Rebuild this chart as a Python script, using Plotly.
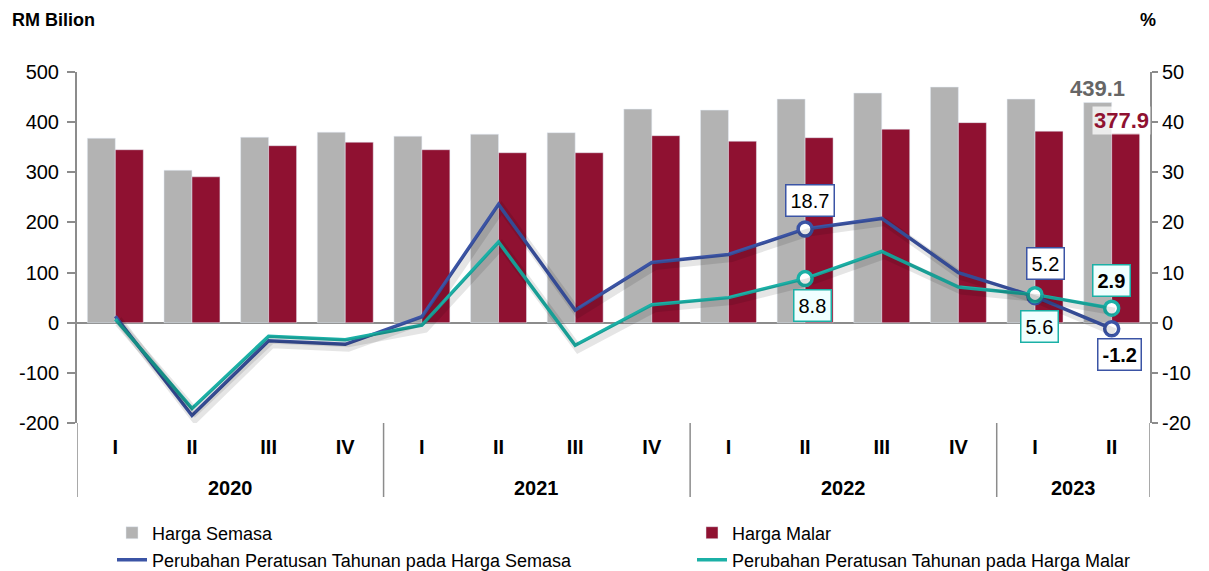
import plotly.graph_objects as go

years = ["2020", "2021", "2022", "2023"]
year_counts = [4, 4, 4, 2]
quarters = ["I", "II", "III", "IV"] * 3 + ["I", "II"]

harga_semasa = [368, 304, 370, 380, 372, 376, 379, 426, 424, 446, 458, 470, 446, 439.1]
harga_malar = [345, 291, 353, 360, 345, 339, 339, 373, 362, 369, 386, 399, 382, 377.9]
pct_semasa = [1.3, -18.5, -3.6, -4.3, 1.2, 23.6, 2.5, 12.0, 13.6, 18.7, 20.8, 10.0, 5.2, -1.2]
pct_malar = [0.7, -17.1, -2.7, -3.4, -0.5, 16.1, -4.5, 3.6, 5.0, 8.8, 14.2, 7.1, 5.6, 2.9]

left_ticks = [-200, -100, 0, 100, 200, 300, 400, 500]
right_ticks = [-20, -10, 0, 10, 20, 30, 40, 50]

GRAY = "#B3B3B3"
MAROON = "#8F1131"
BLUE = "#3B54A5"
TEAL = "#1BB0A6"
AXIS = "#8C8C8C"
FONT = "Liberation Sans, Arial, sans-serif"

# the page body has an 8px margin, so the figure is drawn 8px smaller and
# all target positions (taken in window pixels) are shifted by that amount
OFF = 8
W, H = 1209 - OFF, 571 - OFF
ML, MT = 77 - OFF, 72 - OFF
MR, MB = W - (1150 - OFF), H - (423 - OFF)
PW, PH = W - ML - MR, H - MT - MB

def px_x(p):
    return (p - OFF - ML) / PW

def px_y(p):
    return (H - MB - (p - OFF)) / PH

# one category per quarter
x = []
for y, n in zip(years, year_counts):
    x += [f"{y} {q}" for q in ["I", "II", "III", "IV"][:n]]

fig = go.Figure()
fig.add_trace(go.Bar(x=x, y=harga_semasa, name="Harga Semasa", marker_color=GRAY, legend="legend"))
fig.add_trace(go.Bar(x=x, y=harga_malar, name="Harga Malar", marker_color=MAROON, legend="legend2"))

# soft shadows under the lines, drawn on slightly shifted overlay axes
for s in (pct_semasa, pct_malar):
    fig.add_trace(go.Scatter(x=x, y=s, xaxis="x2", yaxis="y3", mode="lines", showlegend=False,
                             hoverinfo="skip", line=dict(color="rgba(0,0,0,0.10)", width=8)))

fig.add_trace(go.Scatter(x=x, y=pct_semasa, name="Perubahan Peratusan Tahunan pada Harga Semasa",
                         yaxis="y2", mode="lines", line=dict(color=BLUE, width=3.5), legend="legend3"))
fig.add_trace(go.Scatter(x=x, y=pct_malar, name="Perubahan Peratusan Tahunan pada Harga Malar",
                         yaxis="y2", mode="lines", line=dict(color=TEAL, width=3.5), legend="legend4"))

marked = [9, 12, 13]
for s, c in ((pct_semasa, BLUE), (pct_malar, TEAL)):
    fig.add_trace(go.Scatter(x=[x[i] for i in marked], y=[s[i] for i in marked], yaxis="y2",
                             mode="markers", showlegend=False, hoverinfo="skip",
                             marker=dict(size=14, color="white", line=dict(color=c, width=3.5))))

def box(i, series, color, dx, dy, bold=False, bg="white"):
    v = series[i]
    txt = f"{v:.1f}"
    if bold:
        txt = f"<b>{txt}</b>"
    fig.add_annotation(x=i, y=v, xref="x", yref="y2", text=txt, showarrow=False,
                       xshift=dx, yshift=dy, bgcolor=bg, bordercolor=color, borderwidth=1.5,
                       borderpad=4, font=dict(size=20, color="black", family=FONT))

box(9, pct_semasa, BLUE, 5, 28)
box(9, pct_malar, TEAL, 7, -27, bg="#F0FFFF")
box(12, pct_semasa, BLUE, 10, 33)
box(12, pct_malar, TEAL, 4, -32, bg="#F0FFFF")
box(13, pct_malar, TEAL, 0, 28, bold=True, bg="#F0FFFF")
box(13, pct_semasa, BLUE, 8, -26, bold=True)

fig.add_annotation(x=13, y=harga_semasa[13], xref="x", yref="y", text=f"<b>{harga_semasa[13]}</b>",
                   showarrow=False, xshift=-14, yshift=14,
                   font=dict(size=22, color="#666666", family=FONT))
fig.add_annotation(x=13, y=harga_malar[13], xref="x", yref="y", text=f"<b>{harga_malar[13]}</b>",
                   showarrow=False, xshift=10, yshift=13, bgcolor="rgba(255,255,255,0.75)",
                   font=dict(size=22, color=MAROON, family=FONT))

# axis titles
fig.add_annotation(x=px_x(10), y=px_y(20), xref="paper", yref="paper", xanchor="left", yanchor="middle",
                   text="<b>RM Bilion</b>", showarrow=False, font=dict(size=18, color="black", family=FONT))
fig.add_annotation(x=px_x(1148), y=px_y(20), xref="paper", yref="paper", xanchor="center", yanchor="middle",
                   text="<b>%</b>", showarrow=False, font=dict(size=18, color="black", family=FONT))

# year labels and dividers below the quarters
start = 0
bottom = px_y(497)
fig.add_shape(type="line", x0=-0.5, x1=-0.5, y0=0, y1=bottom, xref="x", yref="paper",
              line=dict(color=AXIS, width=1.5))
for y, n in zip(years, year_counts):
    mid = start + (n - 1) / 2
    fig.add_annotation(x=mid, y=px_y(488), xref="x", yref="paper", text=f"<b>{y}</b>",
                       showarrow=False, yanchor="middle", font=dict(size=20, color="black", family=FONT))
    start += n
    fig.add_shape(type="line", x0=start - 0.5, x1=start - 0.5, y0=0, y1=bottom, xref="x", yref="paper",
                  line=dict(color=AXIS, width=1.5))

def legend_at(px, py):
    return dict(orientation="h", x=px_x(px), y=px_y(py), xanchor="left", yanchor="middle",
                font=dict(size=18, color="black", family=FONT), bgcolor="rgba(0,0,0,0)")

# inner halves of the crossing tick marks
inner = dict(overlaying="y", showgrid=False, zeroline=False, showline=False, showticklabels=False,
             ticks="inside", tickcolor=AXIS, ticklen=6, tickwidth=1.5)

fig.update_layout(
    width=W, height=H,
    margin=dict(l=ML, r=MR, t=MT, b=MB, autoexpand=False),
    paper_bgcolor="white", plot_bgcolor="white",
    barmode="group", bargap=0.27, bargroupgap=0,
    font=dict(family=FONT, size=20, color="black"),
    xaxis=dict(type="category", range=[-0.5, 13.5], tickvals=x, ticktext=quarters, showgrid=False,
               showline=False, ticks="outside", ticklen=6, tickcolor="rgba(0,0,0,0)",
               tickfont=dict(size=20, weight="bold"), automargin=False),
    xaxis2=dict(type="category", range=[-0.54, 13.46], overlaying="x", visible=False),
    yaxis=dict(range=[-200, 500], tickvals=left_ticks, ticktext=[str(v) for v in left_ticks],
               showgrid=False, showline=True, linecolor=AXIS, linewidth=2, ticks="outside",
               tickcolor=AXIS, ticklen=8, tickwidth=1.5, zeroline=True, zerolinecolor=AXIS,
               zerolinewidth=2, automargin=False, ticklabelstandoff=4,
               tickfont=dict(size=20)),
    yaxis2=dict(range=[-20, 50], tickvals=right_ticks, ticktext=[str(v) for v in right_ticks],
                overlaying="y", side="right", showgrid=False, showline=True, linecolor=AXIS,
                linewidth=2, ticks="outside", tickcolor=AXIS, ticklen=6, tickwidth=1.5,
                zeroline=False, automargin=False, tickfont=dict(size=20)),
    yaxis3=dict(range=[-19.3, 50.7], overlaying="y", visible=False),
    yaxis4=dict(range=[-200, 500], tickvals=left_ticks, side="left", **inner),
    yaxis5=dict(range=[-20, 50], tickvals=right_ticks, side="right", **inner),
    legend=legend_at(112, 533),
    legend2=legend_at(692, 533),
    legend3=legend_at(112, 560),
    legend4=legend_at(692, 560),
    showlegend=True,
)

fig.write_html("out.html")
